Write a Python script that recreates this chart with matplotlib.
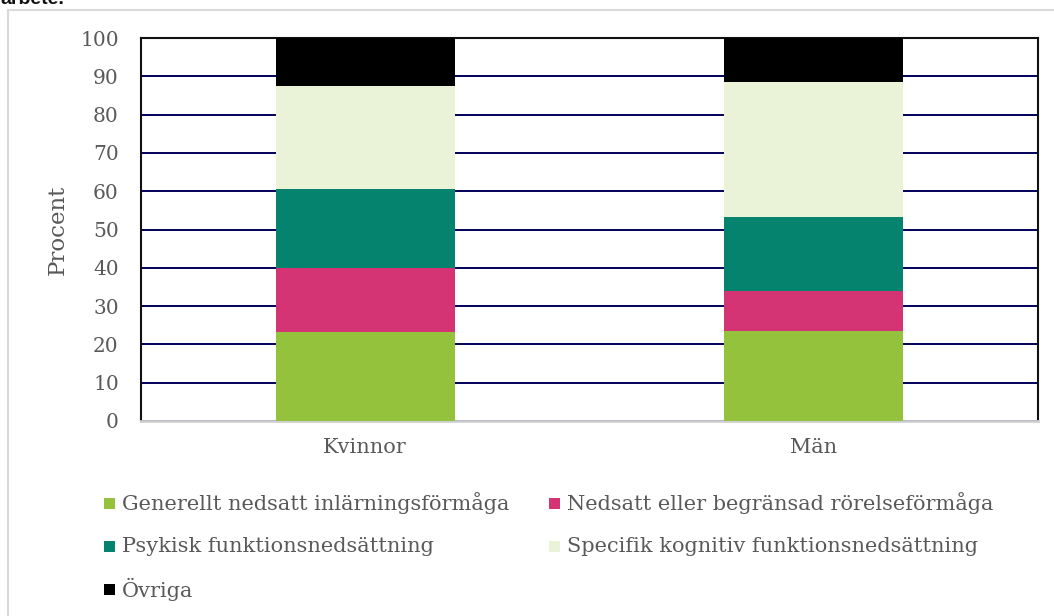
import matplotlib
matplotlib.use("Agg")
import matplotlib.pyplot as plt
from matplotlib.patches import Rectangle

categories = ["Kvinnor", "Män"]
series_names = [
    "Generellt nedsatt inlärningsförmåga",
    "Nedsatt eller begränsad rörelseförmåga",
    "Psykisk funktionsnedsättning",
    "Specifik kognitiv funktionsnedsättning",
    "Övriga",
]
generellt = [23.2, 23.6]
nedsatt = [16.7, 10.4]
psykisk = [20.6, 19.3]
specifik = [27.0, 35.3]
ovriga = [12.5, 11.4]
series_values = [generellt, nedsatt, psykisk, specifik, ovriga]
colors = ["#95c23d", "#d43473", "#05836e", "#eaf2d8", "#000000"]
yticks = [0, 10, 20, 30, 40, 50, 60, 70, 80, 90, 100]

W, H = 1054, 616
fig = plt.figure(figsize=(W / 100, H / 100), dpi=100)
serif = ["DejaVu Serif"]
txtcol = "#595959"

# outer border
fig.add_artist(Rectangle((8 / W, -0.05), 1.1, 1 - 9.5 / H + 0.05, transform=fig.transFigure,
                         fill=False, edgecolor="#d9d9d9", linewidth=1.5))
fig.text(0.0, 1 - 4.5 / H, "arbete.", fontsize=14, fontweight="bold",
         family=["Liberation Sans"], va="baseline", ha="left", color="#111111")

ax = fig.add_axes([141 / W, 1 - 421 / H, (1038 - 141) / W, (421 - 38) / H])
x = list(range(len(categories)))
bottom = [0.0] * len(categories)
for name, vals, c in zip(series_names, series_values, colors):
    ax.bar(x, vals, width=0.4, bottom=bottom, color=c, zorder=3, linewidth=0)
    bottom = [b + v for b, v in zip(bottom, vals)]

ax.set_xlim(-0.5, 1.5)
ax.set_ylim(0, 100)
ax.set_yticks(yticks)
ax.set_yticklabels([str(t) for t in yticks], family=serif, fontsize=14.5, color=txtcol)
ax.set_xticks(x)
ax.set_xticklabels(categories, family=serif, fontsize=15, color=txtcol)
ax.tick_params(axis="both", length=0)
ax.tick_params(axis="y", pad=16)
ax.tick_params(axis="x", pad=12)
ax.yaxis.grid(True, color="#00005a", linewidth=1.4, zorder=1)
ax.set_axisbelow(True)
for s in ["left", "top", "right"]:
    ax.spines[s].set_color("#111111")
    ax.spines[s].set_linewidth(1.5)
ax.spines["bottom"].set_color("#d0d0d0")
ax.spines["bottom"].set_linewidth(2)
ax.set_ylabel("Procent", family=serif, fontsize=16.5, color=txtcol, labelpad=8)

# legend (manual, Excel-like layout)
row_y = [503, 546, 589]
col_sq = [104, 549]
for i, (name, c) in enumerate(zip(series_names, colors)):
    r, col = i // 2, i % 2
    yc = row_y[r]
    sx = col_sq[col]
    fig.add_artist(Rectangle((sx / W, 1 - (yc + 6) / H), 11 / W, 11 / H,
                             transform=fig.transFigure, facecolor=c, edgecolor="none"))
    fig.text((sx + 18) / W, 1 - yc / H, name, family=serif, fontsize=15,
             color=txtcol, va="center", ha="left")

fig.savefig("out.png", dpi=100)
